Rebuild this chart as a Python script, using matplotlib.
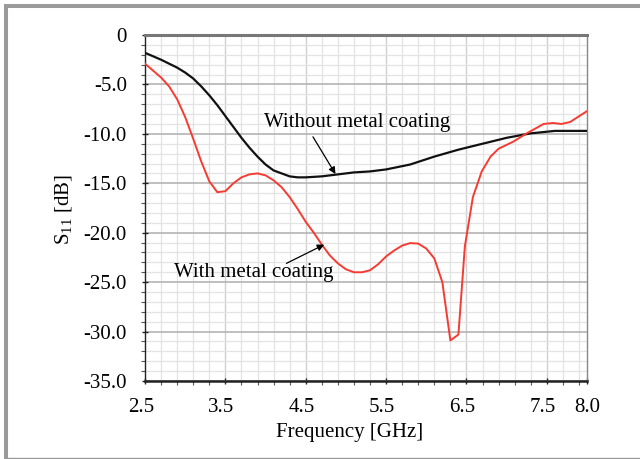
import matplotlib
matplotlib.use("Agg")
import matplotlib.pyplot as plt
import numpy as np
from matplotlib.ticker import FixedLocator, MultipleLocator
from matplotlib.lines import Line2D
from matplotlib.transforms import ScaledTranslation

plt.rcParams['font.family'] = ['Liberation Serif', 'DejaVu Serif']
plt.rcParams['mathtext.fontset'] = 'custom'
plt.rcParams['mathtext.rm'] = 'Liberation Serif'
plt.rcParams['mathtext.it'] = 'Liberation Serif:italic'

# Data: without metal coating (black)
freq_without = [2.5, 2.7, 2.9, 3.0, 3.1, 3.2, 3.3, 3.4, 3.5, 3.6, 3.7, 3.8, 3.9,
                4.0, 4.1, 4.2, 4.3, 4.4, 4.5, 4.7, 4.9, 5.1, 5.3, 5.5, 5.8, 6.1,
                6.4, 6.7, 7.0, 7.3, 7.6, 8.0]
s11_without = [-1.8, -2.5, -3.3, -3.8, -4.4, -5.2, -6.1, -7.1, -8.2, -9.3, -10.4,
               -11.4, -12.3, -13.1, -13.7, -14.0, -14.3, -14.4, -14.4, -14.3, -14.1,
               -13.9, -13.8, -13.6, -13.1, -12.3, -11.6, -11.0, -10.4, -9.95, -9.7,
               -9.7]

# Data: with metal coating (red)
freq_with = [2.5, 2.7, 2.8, 2.9, 3.0, 3.1, 3.2, 3.3, 3.4, 3.5, 3.6, 3.7, 3.8, 3.9,
             4.0, 4.1, 4.2, 4.3, 4.4, 4.5, 4.6, 4.7, 4.8, 4.9, 5.0, 5.1, 5.2, 5.3,
             5.4, 5.5, 5.6, 5.7, 5.8, 5.9, 6.0, 6.1, 6.2, 6.3, 6.4, 6.48, 6.58,
             6.69, 6.8, 6.9, 7.08, 7.25, 7.46, 7.58, 7.68, 7.79, 8.0]
s11_with = [-2.9, -4.3, -5.2, -6.5, -8.3, -10.5, -12.8, -14.8, -15.9, -15.8, -15.0,
            -14.4, -14.1, -14.0, -14.2, -14.7, -15.4, -16.4, -17.6, -18.9, -20.0,
            -21.2, -22.3, -23.1, -23.7, -24.0, -24.0, -23.8, -23.2, -22.4, -21.8,
            -21.3, -21.05, -21.1, -21.6, -22.6, -25.0, -30.9, -30.3, -21.4, -16.4,
            -13.8, -12.3, -11.5, -10.8, -9.95, -9.0, -8.9, -9.0, -8.8, -7.7]

xticks = [2.5, 3.5, 4.5, 5.5, 6.5, 7.5, 8.0]
xticklabels = ["2.5", "3.5", "4.5", "5.5", "6.5", "7.5", "8.0"]
yticks = [0, -5, -10, -15, -20, -25, -30, -35]
yticklabels = ["0", "-5.0", "-10.0", "-15.0", "-20.0", "-25.0", "-30.0", "-35.0"]

W, H = 640, 459
fig = plt.figure(figsize=(W / 100, H / 100), dpi=100)
ax = fig.add_axes([145 / W, 1 - 381 / H, (587 - 145) / W, (381 - 35) / H])

ax.set_xlim(2.5, 8.0)
ax.set_ylim(-35, 0)

# grid
minor_x = np.round(np.arange(2.5, 8.0001, 0.2), 3)
ax.xaxis.set_minor_locator(FixedLocator(minor_x))
ax.yaxis.set_minor_locator(MultipleLocator(1))
ax.set_xticks(xticks)
ax.set_xticklabels(xticklabels)
ax.set_yticks(yticks)
ax.set_yticklabels(yticklabels)
ax.grid(which='minor', color='#e3e3e3', linewidth=0.9, zorder=0)
ax.grid(which='major', axis='y', color='#b4b4b4', linewidth=1.2, zorder=0)
for xv in [3.5, 4.5, 5.5, 6.5, 7.5]:
    ax.axvline(xv, color='#d0d0d0', linewidth=1.0, zorder=0.5)
ax.xaxis.grid(False, which='major')
ax.set_axisbelow(True)

ax.tick_params(axis='both', which='major', labelsize=15, length=5, width=1.0,
               direction='inout', color='#222222')
ax.tick_params(axis='both', which='minor', length=3, width=0.8, direction='out',
               color='#555555')
ax.tick_params(axis='x', which='major', pad=10)
ax.tick_params(axis='y', which='major', pad=10.5)

shift = ScaledTranslation(-4 / 100, 0, fig.dpi_scale_trans)
for lbl in ax.get_xticklabels()[:-1]:
    lbl.set_transform(lbl.get_transform() + shift)

for side, col, lw in [('top', '#777777', 2.2), ('bottom', '#222222', 1.8),
                      ('left', '#222222', 1.0), ('right', '#888888', 1.0)]:
    ax.spines[side].set_color(col)
    ax.spines[side].set_linewidth(lw)

ax.plot(freq_without, s11_without, color='#111111', linewidth=1.6, zorder=3)
ax.plot(freq_with, s11_with, color='#f53b32', linewidth=1.4, zorder=3)

arrow = dict(arrowstyle='-|>', color='black', lw=0.9, mutation_scale=10,
             shrinkA=0, shrinkB=0)
ax.text(3.98, -8.9, "Without metal coating", fontsize=15, va='center',
        ha='left', zorder=5)
ax.annotate("", xy=(4.87, -14.06), xytext=(4.59, -10.3), arrowprops=arrow, zorder=5)
ax.text(2.86, -24.0, "With metal coating", fontsize=15, va='center',
        ha='left', zorder=5)
ax.annotate("", xy=(4.73, -21.2), xytext=(4.26, -23.1), arrowprops=arrow, zorder=5)

fig.text(350 / W, 1 - 432 / H, "Frequency [GHz]", fontsize=15, ha='center',
         va='center')
fig.text(63 / W, 1 - 210 / H, r"$\mathrm{S}_{11}$ [dB]", fontsize=15,
         ha='center', va='center', rotation=90)

# outer frame
fig.add_artist(Line2D([6 / W, 6 / W], [0, 1 - 4 / H], transform=fig.transFigure,
                      color='#9a9a9a', linewidth=2.9, solid_capstyle='butt'))
fig.add_artist(Line2D([4 / W, 1], [1 - 6 / H, 1 - 6 / H], transform=fig.transFigure,
                      color='#9a9a9a', linewidth=2.9, solid_capstyle='butt'))
fig.add_artist(Line2D([4 / W, 1], [1.5 / H, 1.5 / H], transform=fig.transFigure,
                      color='#9a9a9a', linewidth=1.0, solid_capstyle='butt'))

fig.savefig("out.png", dpi=100)
